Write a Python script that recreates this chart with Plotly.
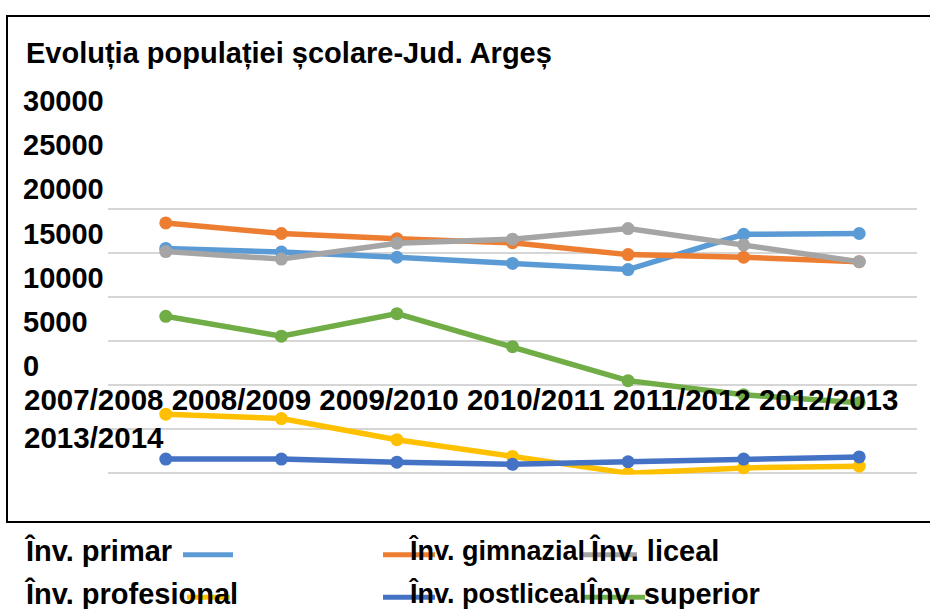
import plotly.graph_objects as go

# school years (x categories)
years = ["2007/2008", "2008/2009", "2009/2010", "2010/2011",
         "2011/2012", "2012/2013", "2013/2014"]

# pupils / students per level
primar = [25500, 25100, 24500, 23800, 23100, 27100, 27200]
gimnazial = [28400, 27200, 26600, 26150, 24800, 24500, 24000]
liceal = [25150, 24300, 26100, 26550, 27750, 25900, 24000]
profesional = [6700, 6200, 3800, 1900, 0, 600, 800]
postliceal = [1600, 1600, 1250, 1000, 1300, 1600, 1850]
superior = [17800, 15550, 18100, 14350, 10500, 8900, 8000]

series_names = ["Înv. primar", "Înv. gimnazial", "Înv. liceal",
                "Înv. profesional", "Înv. postliceal", "Înv. superior"]
series_values = [primar, gimnazial, liceal, profesional, postliceal, superior]
series_colors = ["#5B9BD5", "#ED7D31", "#A5A5A5", "#FFC000", "#4472C4", "#70AD47"]

title_text = "Evoluția populației școlare-Jud. Argeș"

W, H = 930, 609
# plot area (pixels): the outer frame of the original picture
L, R, T, B = 7, 930, 11, 522
FONT = "Liberation Sans, Arial, sans-serif"
TXT = dict(family=FONT, size=29, color="black", weight="bold")
PAD = 150  # small range padding so the 0 and 30000 grid lines are drawn
PX_PER_UNIT = 267 / 30000


def px(x):
    return (x - L) / (R - L)


def py(y):
    return (B - y) / (B - T)


fig = go.Figure()
for name, vals, col in zip(series_names, series_values, series_colors):
    fig.add_trace(go.Scatter(
        x=years, y=vals, name=name, mode="lines+markers",
        line=dict(color=col, width=5.5),
        marker=dict(color=col, size=13),
        showlegend=False,
    ))

# empty trace so the shifted label axis gets drawn
fig.add_trace(go.Scatter(x=[], y=[], yaxis="y2", showlegend=False, hoverinfo="skip"))

pad_px = PAD * PX_PER_UNIT
fig.update_layout(
    width=W, height=H,
    margin=dict(l=L, r=W - R, t=T, b=H - B),
    paper_bgcolor="white", plot_bgcolor="rgba(0,0,0,0)",
    font=dict(family=FONT),
    title=dict(text=title_text, font=TXT, xref="container", yref="container",
               x=26 / W, y=1 - 53 / H, xanchor="left", yanchor="middle"),
    xaxis=dict(type="category", categoryorder="array", categoryarray=years,
               range=[-0.5, len(years) - 0.5], domain=[px(108), px(917)],
               showticklabels=False, showgrid=False, zeroline=False, showline=False),
    yaxis=dict(range=[-PAD, 30000 + PAD], dtick=5000,
               domain=[py(472.7 + pad_px), py(205.7 - pad_px)],
               showticklabels=False, showgrid=True, gridcolor="#d6d6d6", gridwidth=1.5,
               zeroline=False, showline=False),
    # value labels, drawn in their own column above the grid as in the original
    yaxis2=dict(anchor="free", position=px(19), side="left",
                range=[0, 30000], dtick=5000, tickformat="d",
                domain=[py(364.5), py(96.5)],
                ticklabelposition="inside", ticklabeloverflow="allow",
                tickfont=TXT, showgrid=False, zeroline=False, showline=False, ticks=""),
)

# outer frame (open on the right side)
fig.add_shape(type="rect", xref="paper", yref="paper",
              x0=px(7), x1=px(940), y0=py(522), y1=py(11),
              line=dict(color="black", width=2), layer="above")

# category labels, wrapped onto two rows
fig.add_annotation(text=" ".join(years[:6]) + "<br>" + years[6],
                   xref="paper", yref="paper", x=px(22), y=py(417),
                   xanchor="left", yanchor="middle", align="left",
                   showarrow=False, font=dict(TXT, size=29.5))

# legend under the frame
leg_text_x = [22, 406, 587, 22, 406, 584]
leg_size = [29, 27, 29, 29, 27, 29]
leg_row_y = [551, 594]
leg_sym = [(183, 233), (383, 435), (583, 637), (187, 230), (383, 435), (583, 645)]
for i, (name, col) in enumerate(zip(series_names, series_colors)):
    ry = leg_row_y[i // 3]
    x0, x1 = leg_sym[i]
    fig.add_shape(type="line", xref="paper", yref="paper",
                  x0=px(x0), x1=px(x1), y0=py(ry + 4), y1=py(ry + 4),
                  line=dict(color=col, width=5))
    fig.add_annotation(text=name, xref="paper", yref="paper",
                       x=px(leg_text_x[i]), y=py(ry), xanchor="left", yanchor="middle",
                       showarrow=False, font=dict(TXT, size=leg_size[i]))

# the page body has a default 8px margin; drop it so the figure sits at the corner
fig.write_html("out.html", config={"displayModeBar": False},
               post_script="document.body.style.margin='0';")
